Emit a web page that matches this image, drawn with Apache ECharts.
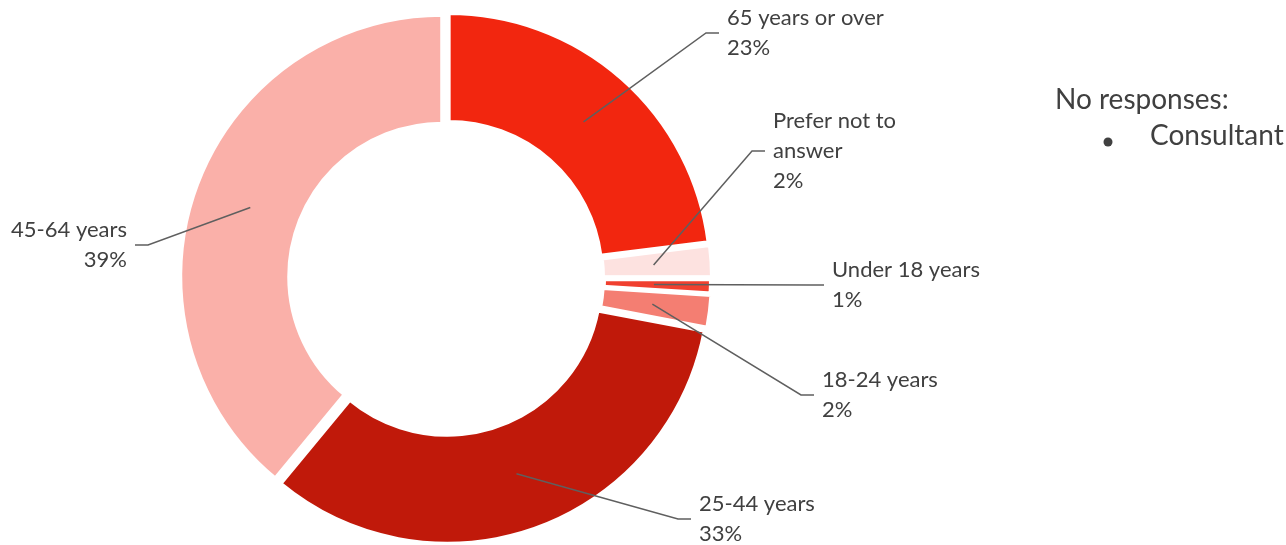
<!DOCTYPE html>
<html><head><meta charset="utf-8">
<script src="https://cdn.jsdelivr.net/npm/echarts@6/dist/echarts.min.js"></script>
<style>html,body{margin:0;padding:0;background:#fff}#c{width:1286px;height:545px}</style>
</head><body><div id="c"></div>
<script>
const categories = ['65 years or over', 'Prefer not to answer', 'Under 18 years', '18-24 years', '25-44 years', '45-64 years'];
const labelTexts = ['65 years or over', 'Prefer not to\nanswer', 'Under 18 years', '18-24 years', '25-44 years', '45-64 years'];
const values = [23, 2, 1, 2, 33, 39];
const colors = ['#F2260F', '#FDE2E0', '#F0402F', '#F47E72', '#C0190A', '#FAB0A9'];
const noteTitle = 'No responses:';
const noteItems = ['Consultant'];

const CENTER = [446, 278];
const RADII = [153, 262];
const MID_R = 208;
// label anchor: [x, middle y, side]
const LABEL_ANCHORS = [[727, 33, 'left'], [773, 151, 'left'], [832, 285, 'left'], [822, 395, 'left'], [699, 519, 'left'], [127, 245, 'right']];

const chart = echarts.init(document.getElementById('c'), null, {renderer: 'canvas'});
const ringData = categories.map((c, i) => ({
  name: c, value: values[i], selected: true,
  itemStyle: {color: colors[i], borderWidth: i === 2 ? 6 : 4}
}));
const labelData = categories.map((c, i) => ({
  name: c, value: values[i],
  label: {formatter: labelTexts[i] + '\n{d}%'}
}));

chart.setOption({
  animation: false,
  backgroundColor: '#ffffff',
  graphic: [
    {type: 'text', left: 1055, top: 86, style: {text: noteTitle, font: '28px Lato', fill: '#404040'}},
    {type: 'circle', shape: {cx: 1108, cy: 142, r: 4.5}, style: {fill: '#404040'}},
    {type: 'text', left: 1150, top: 122, style: {text: noteItems[0], font: '28px Lato', fill: '#404040'}}
  ],
  series: [{
    type: 'pie',
    z: 2,
    center: CENTER,
    radius: RADII,
    startAngle: 90,
    clockwise: true,
    selectedMode: 'multiple',
    selectedOffset: 4,
    emphasis: {disabled: true},
    itemStyle: {borderColor: '#ffffff', borderWidth: 4},
    label: {show: false},
    labelLine: {show: false},
    data: ringData
  }, {
    type: 'pie',
    z: 5,
    silent: true,
    center: CENTER,
    radius: RADII,
    startAngle: 90,
    clockwise: true,
    avoidLabelOverlap: false,
    emphasis: {disabled: true},
    itemStyle: {color: 'rgba(0,0,0,0)', borderWidth: 0},
    label: {show: true, position: 'outside', fontFamily: 'Lato', fontSize: 22, lineHeight: 30, color: '#404040'},
    labelLine: {show: true, lineStyle: {color: '#5f5f5f', width: 1.5}},
    labelLayout: function (params) {
      const i = params.dataIndex;
      const a = LABEL_ANCHORS[i];
      const r = params.labelRect;
      const p0 = params.labelLinePoints ? params.labelLinePoints[0] : CENTER;
      const vx = p0[0] - CENTER[0], vy = p0[1] - CENTER[1];
      const len = Math.sqrt(vx * vx + vy * vy) || 1;
      const start = [CENTER[0] + vx / len * MID_R, CENTER[1] + vy / len * MID_R];
      const sgn = a[2] === 'left' ? -1 : 1;
      const end = [a[0] + sgn * 8, a[1]];
      const elbow = [a[0] + sgn * 21, a[1]];
      const curX = a[2] === 'left' ? r.x : r.x + r.width;
      const curY = r.y + r.height / 2;
      return {
        dx: a[0] - curX, dy: a[1] - curY,
        labelLinePoints: [start, elbow, end]
      };
    },
    data: labelData
  }]
});
</script>
</body></html>
